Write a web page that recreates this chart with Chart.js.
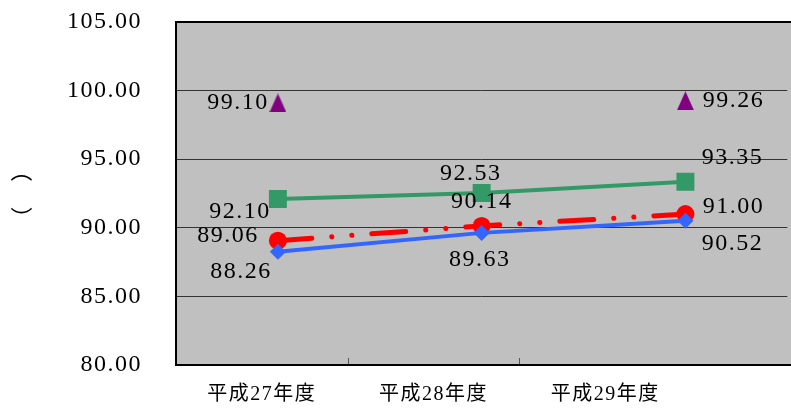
<!DOCTYPE html>
<html>
<head>
<meta charset="utf-8">
<script src="https://cdn.jsdelivr.net/npm/chart.js@4.4.0/dist/chart.umd.min.js"></script>
<style>
  html, body { margin: 0; padding: 0; background: #fff; overflow: hidden; }
  #wrap { width: 800px; height: 410px; }
</style>
</head>
<body>
<div id="wrap"><canvas id="chart"></canvas></div>
<script>
// data
const categories = ['平成27年度', '平成28年度', '平成29年度'];
const blueValues = [88.26, 89.63, 90.52];
const redValues = [89.06, 90.14, 91.00];
const greenValues = [92.10, 92.53, 93.35];
const purpleValues = [99.10, null, 99.26];
const yMin = 80;
const yMax = 105;
const yStep = 5;

// label offsets (px) for the value labels, per series / point
const blueOffsets = [[-37, 20], [-2, 27], [47, 23]];
const redOffsets = [[-50, -5], [0, -24], [48, -7]];
const greenOffsets = [[-38, 13], [-11, -19], [47, -24]];
const purpleOffsets = [[-40, 0], [0, 0], [48, 0]];

const NUM_FONT = "'Liberation Serif', 'Noto Sans CJK JP', serif";

function toPoints(values) {
    return values.map((v, i) => ({ x: i, y: v }));
}

// narrow, tall triangle marker like the original
function triangleMarker(color, w, h) {
    const c = document.createElement('canvas');
    c.width = w;
    c.height = h;
    const g = c.getContext('2d');
    g.fillStyle = color;
    g.beginPath();
    g.moveTo(w / 2, 0);
    g.lineTo(w, h);
    g.lineTo(0, h);
    g.closePath();
    g.fill();
    return c;
}

// plot background, frame and inner tick marks
const plotFrame = {
    id: 'plotFrame',
    beforeDraw(chart) {
        const { ctx, chartArea: a } = chart;
        ctx.letterSpacing = '1.5px';
        ctx.save();
        ctx.fillStyle = '#c0c0c0';
        ctx.fillRect(a.left, a.top, a.right - a.left + 10, a.bottom - a.top);
        ctx.restore();
    },
    beforeDatasetsDraw(chart) {
        const { ctx, chartArea: a } = chart;
        const xs = chart.scales.x;
        ctx.save();
        ctx.strokeStyle = '#000';
        ctx.lineWidth = 2;
        ctx.strokeRect(a.left, a.top, a.right - a.left + 20, a.bottom - a.top);
        ctx.strokeStyle = '#555';
        ctx.lineWidth = 1;
        for (let i = 0; i < categories.length - 1; i++) {
            const px = Math.round(xs.getPixelForValue(i + 0.5)) + 0.5;
            ctx.beginPath();
            ctx.moveTo(px, a.bottom - 1);
            ctx.lineTo(px, a.bottom - 7);
            ctx.stroke();
        }
        ctx.restore();
    }
};

// value labels next to each marker
const valueLabels = {
    id: 'valueLabels',
    afterDatasetsDraw(chart) {
        const ctx = chart.ctx;
        ctx.save();
        ctx.font = '24px ' + NUM_FONT;
        ctx.fillStyle = '#000';
        ctx.textAlign = 'center';
        ctx.textBaseline = 'middle';
        chart.data.datasets.forEach((ds, di) => {
            const meta = chart.getDatasetMeta(di);
            meta.data.forEach((el, i) => {
                const v = ds.data[i].y;
                if (v === null) return;
                const off = ds.labelOffsets[i];
                ctx.fillText(v.toFixed(2), el.x + off[0], el.y + off[1]);
            });
        });
        ctx.restore();
    }
};

new Chart(document.getElementById('chart'), {
    type: 'line',
    data: {
        datasets: [
            {
                data: toPoints(blueValues),
                labelOffsets: blueOffsets,
                xAxisID: 'x2',
                borderColor: '#3366ff',
                backgroundColor: '#3366ff',
                borderWidth: 4,
                pointStyle: 'rectRot',
                pointRadius: 8,
                pointBorderWidth: 0
            },
            {
                data: toPoints(redValues),
                labelOffsets: redOffsets,
                xAxisID: 'x2',
                borderColor: '#ff0000',
                backgroundColor: '#ff0000',
                borderWidth: 5,
                borderDash: [34, 20, 0.1, 20, 0.1, 20],
                borderCapStyle: 'round',
                pointStyle: 'circle',
                pointRadius: 9,
                pointBorderWidth: 0
            },
            {
                data: toPoints(greenValues),
                labelOffsets: greenOffsets,
                xAxisID: 'x2',
                borderColor: '#339966',
                backgroundColor: '#339966',
                borderWidth: 4,
                pointStyle: 'rect',
                pointRadius: 12.7,
                pointBorderWidth: 0
            },
            {
                data: toPoints(purpleValues),
                labelOffsets: purpleOffsets,
                xAxisID: 'x2',
                showLine: false,
                borderColor: '#800080',
                backgroundColor: '#800080',
                pointStyle: triangleMarker('#800080', 17, 19),
                pointRadius: 10,
                pointBorderWidth: 0
            }
        ]
    },
    options: {
        responsive: true,
        maintainAspectRatio: false,
        animation: false,
        layout: { padding: { top: 22, right: 5, bottom: 0, left: 0 } },
        plugins: {
            legend: { display: false },
            tooltip: { enabled: false }
        },
        scales: {
            x: {
                type: 'linear',
                position: 'bottom',
                min: -0.5,
                max: 3.06,
                afterBuildTicks: axis => {
                    axis.ticks = categories.map((c, i) => ({ value: i }));
                },
                afterFit: axis => { axis.height = 45; },
                grid: { display: false },
                border: { display: false },
                ticks: {
                    padding: 10,
                    color: '#000',
                    maxRotation: 0,
                    font: { size: 20, family: NUM_FONT },
                    callback: v => categories[v]
                }
            },
            x2: {
                type: 'linear',
                display: false,
                min: -0.5,
                max: categories.length - 0.5
            },
            y: {
                min: yMin,
                max: yMax,
                afterFit: axis => { axis.width = 176; },
                grid: {
                    color: '#333',
                    lineWidth: 1,
                    drawTicks: true,
                    tickLength: 34,
                    tickColor: 'rgba(0,0,0,0)'
                },
                border: { display: false },
                ticks: {
                    stepSize: yStep,
                    padding: 0,
                    color: '#000',
                    font: { size: 24, family: NUM_FONT },
                    callback: v => v.toFixed(2)
                },
                title: {
                    display: true,
                    text: '（　）',
                    color: '#000',
                    font: { size: 22, family: "'Noto Sans CJK JP'" },
                    padding: { top: 7, bottom: 0 }
                }
            }
        }
    },
    plugins: [plotFrame, valueLabels]
});
</script>
</body>
</html>
